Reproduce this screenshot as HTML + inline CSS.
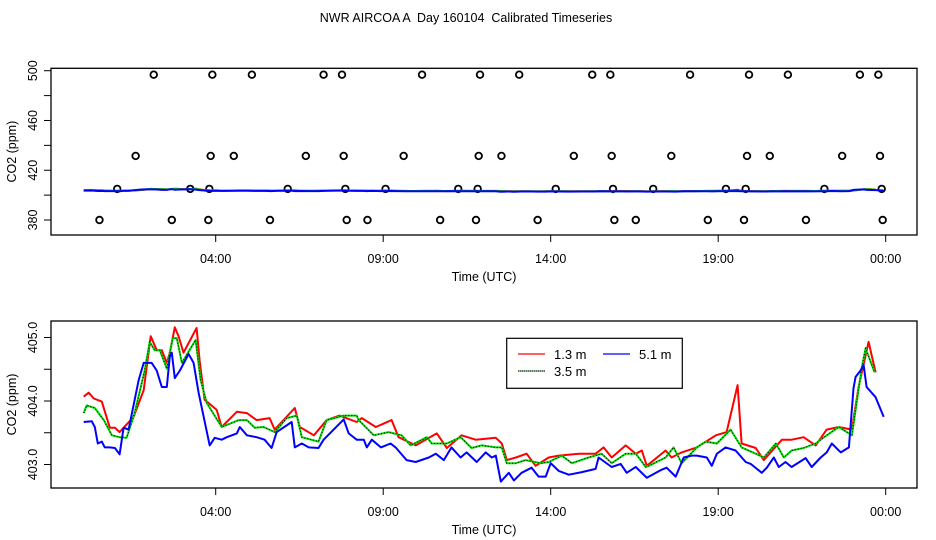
<!DOCTYPE html>
<html><head><meta charset="utf-8"><style>
body{margin:0;background:#fff;}
svg{display:block;font-family:"Liberation Sans",sans-serif;}
</style></head><body>
<svg id="chart" width="936" height="540" viewBox="0 0 936 540" xmlns="http://www.w3.org/2000/svg">
<text x="466" y="22" font-size="12.5" text-anchor="middle" xml:space="preserve">NWR AIRCOA A  Day 160104  Calibrated Timeseries</text>
<g id="top"></g>
<g id="bot"></g>
</svg>
<script>
const redH=[0.06,0.21,0.36,0.60,0.84,0.99,1.13,1.55,1.85,2.06,2.24,2.39,2.54,2.63,2.78,2.90,3.04,3.43,3.52,3.67,4.03,4.18,4.63,4.93,5.22,5.61,5.76,6.36,6.51,6.93,7.31,7.70,8.21,8.36,8.78,9.25,9.46,9.97,10.60,10.90,11.34,11.76,12.36,12.54,12.69,12.96,13.28,13.55,13.94,14.24,14.84,15.34,15.58,15.82,16.24,16.54,16.72,16.87,17.43,17.61,17.91,18.36,18.93,19.25,19.58,19.70,20.12,20.36,20.90,21.19,21.55,21.91,22.24,22.60,22.99,23.19,23.49,23.70];
const redV=[404.07,404.13,404.04,403.99,403.58,403.58,403.51,403.75,404.17,405.02,404.80,404.80,404.60,404.76,405.16,405.01,404.76,405.15,404.64,404.02,403.86,403.59,403.83,403.81,403.70,403.73,403.55,403.89,403.59,403.46,403.70,403.77,403.67,403.73,403.59,403.70,403.43,403.30,403.49,403.26,403.46,403.39,403.42,403.33,403.07,403.11,403.17,402.98,403.11,403.14,403.17,403.17,403.27,403.11,403.30,403.17,403.22,402.98,403.22,403.11,403.19,403.27,403.46,403.51,404.25,403.33,403.26,403.07,403.39,403.39,403.43,403.30,403.55,403.59,403.55,404.22,404.93,404.45];
const greenH=[0.06,0.15,0.39,0.66,0.90,1.13,1.34,1.58,1.88,2.03,2.18,2.33,2.54,2.72,2.84,2.99,3.40,3.55,3.73,4.18,4.69,4.93,5.16,5.43,5.76,6.12,6.42,6.57,7.07,7.31,7.82,8.21,8.27,8.72,9.16,9.55,9.82,10.30,10.45,10.90,11.31,11.64,11.94,12.36,12.54,12.69,12.96,13.25,13.70,13.94,14.33,14.63,15.13,15.52,15.82,16.24,16.54,16.84,16.93,17.43,17.67,17.91,18.36,18.63,18.96,19.37,19.70,20.12,20.36,20.72,20.96,21.19,21.55,21.91,22.24,22.60,22.99,23.28,23.40,23.67];
const greenV=[403.81,403.93,403.89,403.70,403.46,403.43,403.42,403.81,404.48,404.93,404.80,404.80,404.51,404.99,404.99,404.60,404.96,404.33,403.97,403.59,403.70,403.70,403.58,403.59,403.51,403.73,403.77,403.43,403.36,403.70,403.77,403.77,403.70,403.46,403.51,403.46,403.30,403.43,403.33,403.33,403.43,403.26,403.30,403.27,403.27,403.02,403.02,403.07,403.02,403.04,403.14,403.02,403.11,403.17,403.02,403.17,403.17,402.96,402.98,403.11,403.27,403.02,403.27,403.36,403.33,403.55,403.27,403.17,403.11,403.33,403.11,403.22,403.26,403.33,403.46,403.59,403.46,404.51,404.83,404.45];
const blueH=[0.06,0.30,0.39,0.48,0.60,0.69,0.84,0.99,1.13,1.25,1.40,1.70,1.85,2.09,2.24,2.39,2.54,2.63,2.69,2.78,2.93,3.19,3.34,3.49,3.82,3.97,4.18,4.33,4.63,4.72,4.93,5.22,5.46,5.67,5.82,6.27,6.36,6.57,6.78,7.07,7.22,7.82,7.97,8.21,8.42,8.51,8.66,8.93,9.22,9.37,9.70,9.97,10.36,10.57,10.81,11.04,11.31,11.49,11.79,12.06,12.24,12.36,12.51,12.75,12.90,13.13,13.43,13.64,13.85,14.00,14.24,14.54,14.93,15.34,15.43,15.82,16.09,16.27,16.54,16.87,17.28,17.46,17.73,17.97,18.21,18.36,18.66,18.81,18.96,19.22,19.52,19.82,19.97,20.30,20.45,20.66,20.81,21.01,21.19,21.61,21.79,22.06,22.24,22.39,22.66,22.90,23.04,23.10,23.25,23.34,23.43,23.70,23.94];
const blueV=[403.67,403.68,403.59,403.33,403.36,403.27,403.27,403.26,403.16,403.58,403.55,404.33,404.60,404.60,404.48,404.22,404.22,404.70,404.76,404.36,404.48,404.74,404.60,404.13,403.30,403.42,403.39,403.43,403.49,403.59,403.46,403.43,403.39,403.26,403.51,403.67,403.27,403.33,403.27,403.26,403.39,403.71,403.49,403.39,403.39,403.27,403.39,403.27,403.33,403.27,403.07,403.04,403.11,403.17,403.07,403.27,403.11,403.19,403.04,403.19,403.11,403.14,402.73,402.87,402.75,402.87,402.95,402.81,402.81,403.02,402.90,402.84,402.88,402.93,403.11,402.96,403.01,402.87,402.96,402.79,402.91,402.95,402.81,403.11,403.14,403.14,403.11,402.98,403.17,403.27,403.22,403.04,403.01,402.87,402.95,403.11,402.96,403.04,402.96,403.10,402.96,403.11,403.19,403.33,403.19,403.27,404.20,404.38,404.48,404.57,404.22,404.06,403.75];
const flagH=[2.15,3.90,5.08,7.22,7.77,10.16,11.89,13.06,15.24,15.78,18.16,19.92,21.08,23.23,23.78,
 1.61,3.85,4.54,6.69,7.82,9.61,11.85,12.53,14.69,15.82,17.60,19.86,20.54,22.70,23.83,
 1.06,3.24,3.81,6.15,7.87,9.07,11.24,11.82,14.15,15.86,17.06,19.23,19.82,22.17,23.88,
 0.53,2.69,3.78,5.62,7.91,8.53,10.70,11.77,13.61,15.90,16.54,18.69,19.77,21.62,23.91];
const flagV=[496.8,496.8,496.8,496.8,496.8,496.8,496.8,496.8,496.8,496.8,496.8,496.8,496.8,496.8,496.8,
 431.5,431.5,431.5,431.5,431.5,431.5,431.5,431.5,431.5,431.5,431.5,431.5,431.5,431.5,431.5,
 405,405,405,405,405,405,405,405,405,405,405,405,405,405,405,
 380,380,380,380,380,380,380,380,380,380,380,380,380,380,380];
const xTickH=[4,9,14,19,24];
const xTickLabels=["04:00","09:00","14:00","19:00","00:00"];
const topTicks=[380,400,420,440,460,480,500];
const topLabels=["380","420","460","500"];
const botTicks=[403,403.5,404,404.5,405];
const botLabels=["403.0","404.0","405.0"];

const NS="http://www.w3.org/2000/svg";
function mk(tag,attrs,parent){const e=document.createElementNS(NS,tag);for(const k in attrs)e.setAttribute(k,attrs[k]);parent.appendChild(e);return e;}
const X=h=>81.7+h*33.5;
const L=51,R=917;

function panel(g,top,bottom,Y,ticks,labels,name){
  const box=mk('rect',{x:L,y:top,width:R-L,height:bottom-top,fill:'none',stroke:'#000','stroke-width':1.3},g);
  
  
  ticks.forEach(v=>{const t=mk('line',{x1:L-7,x2:L,y1:Y(v),y2:Y(v),stroke:'#000'},g);
    
    });
  labels.forEach(s=>{const y=Y(parseFloat(s));const t=mk('text',{x:0,y:0,'font-size':12.5,'text-anchor':'middle',transform:`translate(37,${y}) rotate(-90)`},g);t.textContent=s;
    
    });
  xTickH.forEach((h,i)=>{const t=mk('line',{x1:X(h),x2:X(h),y1:bottom,y2:bottom+7,stroke:'#000'},g);
    
    
    const tl=mk('text',{x:X(h),y:bottom+28,'font-size':12.5,'text-anchor':'middle'},g);tl.textContent=xTickLabels[i];
    
    });
  const xt=mk('text',{x:484,y:bottom+46,'font-size':12.5,'text-anchor':'middle'},g);xt.textContent='Time (UTC)';
  
  
  const yt=mk('text',{x:0,y:0,'font-size':12.5,'text-anchor':'middle',transform:`translate(16,${(top+bottom)/2}) rotate(-90)`},g);yt.textContent='CO2 (ppm)';
  
  
}
function series(g,H,V,Y,color,name,dotted){
  const d=H.map((h,i)=>(i?'L':'M')+X(h).toFixed(1)+','+Y(V[i]).toFixed(1)).join('');
  const p=mk('path',{d:d,fill:'none',stroke:color,'stroke-width':2,'stroke-linejoin':'round'},g);
  
  
  if(dotted){const q=mk('path',{d:d,fill:'none',stroke:'#000','stroke-width':1,'stroke-dasharray':'1,2'},g);
    
    }
}
const gt=document.getElementById('top');
const Yt=v=>220-(v-380)*1.244;
panel(gt,68.3,235,Yt,topTicks,topLabels,'top');
flagH.forEach((h,i)=>{const c=mk('circle',{cx:X(h),cy:Yt(flagV[i]),r:3.3,fill:'none',stroke:'#000','stroke-width':1.8},gt);
  
  });
series(gt,redH,redV,Yt,'#ff0000','top-series-1-3m',false);
series(gt,greenH,greenV,Yt,'#00dd00','top-series-3-5m',false);
series(gt,blueH,blueV,Yt,'#0000ff','top-series-5-1m',false);
const gb=document.getElementById('bot');
const Yb=v=>401-(v-404)*63.5;
panel(gb,321,488,Yb,botTicks,botLabels,'bottom');
series(gb,redH,redV,Yb,'#ff0000','series-1-3m',false);
series(gb,greenH,greenV,Yb,'#00dd00','series-3-5m',true);
series(gb,blueH,blueV,Yb,'#0000ff','series-5-1m',false);
const lg=mk('g',{},gb);


mk('rect',{x:506.7,y:338.3,width:175.6,height:50,fill:'#fff',stroke:'#000','stroke-width':1.2},lg);
const ents=[['1.3 m','#ff0000',518,354,false],['5.1 m','#0000ff',603,354,false],['3.5 m','#00dd00',518,371,true]];
ents.forEach(e=>{const g=mk('g',{},lg);
  
  
  mk('line',{x1:e[2],x2:e[2]+27,y1:e[3],y2:e[3],stroke:e[1],'stroke-width':1.3},g);
  if(e[4])mk('line',{x1:e[2],x2:e[2]+27,y1:e[3],y2:e[3],stroke:'#000','stroke-width':1,'stroke-dasharray':'1,1'},g);
  const t=mk('text',{x:e[2]+36,y:e[3]+5,'font-size':13},g);t.textContent=e[0];});
</script>
</body></html>
